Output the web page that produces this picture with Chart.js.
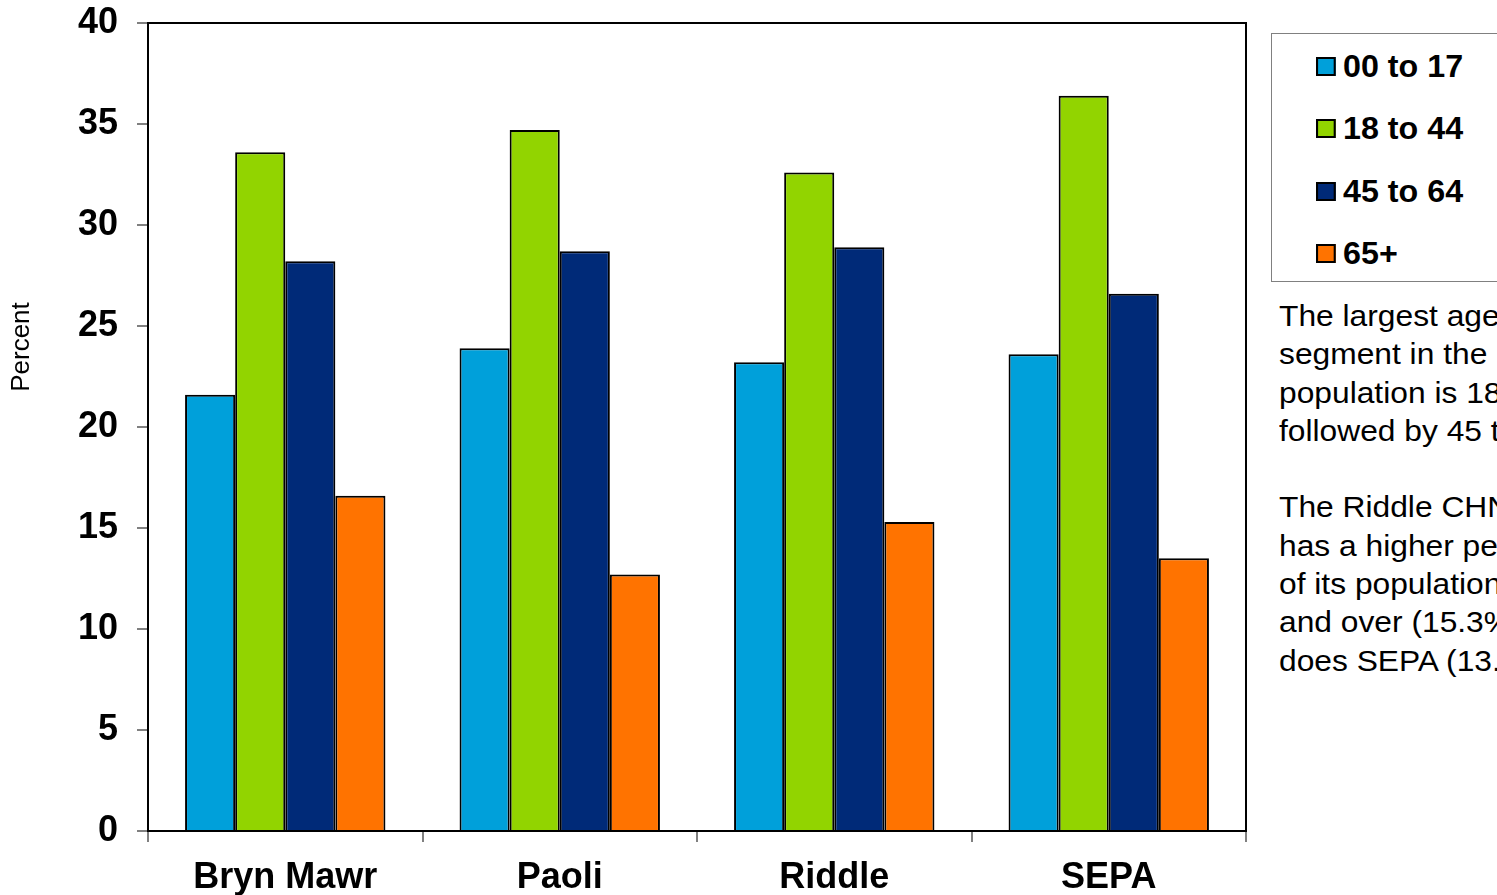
<!DOCTYPE html>
<html>
<head>
<meta charset="utf-8">
<script src="https://cdn.jsdelivr.net/npm/chart.js@4"></script>
<style>
  html, body { margin: 0; padding: 0; background: #fff; width: 1497px; height: 895px; overflow: hidden; }
  body { position: relative; font-family: "Liberation Sans", Arial, sans-serif; }
  #wrap { position: absolute; left: 0; top: 0; width: 1260px; height: 895px; }
  #legend { position: absolute; left: 1271px; top: 33px; width: 260px; height: 249px; border: 1px solid #808080; box-sizing: border-box; }
  .item { position: absolute; left: 44px; height: 40px; line-height: 40px; font-weight: bold; font-size: 31px; color: #000; white-space: nowrap; transform: scaleX(1.04); transform-origin: 0 50%; }
  .item span { display: inline-block; width: 15px; height: 15px; border: 2px solid #000; margin-right: 7px; vertical-align: 1px; }
  #note { position: absolute; left: 1279px; top: 297px; font-size: 29px; line-height: 38.3px; color: #000; white-space: nowrap; transform: scaleX(1.095); transform-origin: 0 0; }
</style>
</head>
<body>
<div id="wrap"><canvas id="chart"></canvas></div>
<div id="legend"></div>
<div id="note">
The largest age<br>segment in the<br>population is 18 to 44,<br>followed by 45 to 64.<br><br>
The Riddle CHNA<br>has a higher percentage<br>of its population 65<br>and over (15.3%) than<br>does SEPA (13.5%).
</div>
<script>
const areas = ['Bryn Mawr', 'Paoli', 'Riddle', 'SEPA'];
const groups = ['00 to 17', '18 to 44', '45 to 64', '65+'];
const age00to17 = [21.6, 23.9, 23.2, 23.6];
const age18to44 = [33.6, 34.7, 32.6, 36.4];
const age45to64 = [28.2, 28.7, 28.9, 26.6];
const age65plus = [16.6, 12.7, 15.3, 13.5];
const colors = ['#00A0DA', '#92D400', '#002A78', '#FF7300'];
const yTitle = 'Percent';

const series = [age00to17, age18to44, age45to64, age65plus];

// legend box on the right
const legend = document.getElementById('legend');
const rowTops = [13, 75, 138, 200];
groups.forEach(function (g, i) {
    const d = document.createElement('div');
    d.className = 'item';
    d.style.top = rowTops[i] + 'px';
    d.innerHTML = '<span style="background:' + colors[i] + '"></span>' + g;
    legend.appendChild(d);
});

// top/right frame of the plot area, and the axis title placed a bit above centre
const frame = {
    id: 'frame',
    afterDraw(chart) {
        const a = chart.chartArea;
        const ctx = chart.ctx;
        ctx.save();
        ctx.strokeStyle = '#000';
        ctx.lineWidth = 2;
        ctx.beginPath();
        ctx.moveTo(a.left, a.top);
        ctx.lineTo(a.right, a.top);
        ctx.lineTo(a.right, a.bottom);
        ctx.stroke();

        ctx.translate(22, a.top + (a.bottom - a.top) * 0.401);
        ctx.rotate(-Math.PI / 2);
        ctx.fillStyle = '#000';
        ctx.font = '26px "Liberation Sans"';
        ctx.textAlign = 'center';
        ctx.textBaseline = 'middle';
        ctx.fillText(yTitle, 0, 0);
        ctx.restore();
    }
};

const data = {
    labels: areas,
    datasets: series.map(function (vals, i) {
        return {
            label: groups[i],
            data: vals,
            backgroundColor: colors[i],
            borderColor: '#000',
            borderWidth: 2,
            categoryPercentage: 0.73,
            barPercentage: 1.0
        };
    })
};

const config = {
    type: 'bar',
    data: data,
    options: {
        responsive: true,
        maintainAspectRatio: false,
        animation: false,
        layout: { padding: { left: 0, right: 14, top: 23, bottom: 0 } },
        plugins: { legend: { display: false }, tooltip: { enabled: false } },
        scales: {
            x: {
                grid: { drawOnChartArea: false, tickLength: 11, color: '#808080', lineWidth: 2 },
                border: { color: '#000', width: 2 },
                ticks: { color: '#000', padding: 14, font: { family: 'Liberation Sans', size: 36, weight: 'bold' } },
                afterFit: function (s) { s.height = 64; s.paddingLeft = 0; s.paddingRight = 0; }
            },
            y: {
                min: 0,
                max: 40,
                grid: { drawOnChartArea: false, tickLength: 11, color: '#808080', lineWidth: 2 },
                border: { color: '#000', width: 2 },
                ticks: { stepSize: 5, color: '#000', padding: 19, font: { family: 'Liberation Sans', size: 36, weight: 'bold' } },
                afterFit: function (s) { s.width = 148; s.paddingTop = 0; s.paddingBottom = 0; }
            }
        }
    },
    plugins: [frame]
};

const ctx = document.getElementById('chart').getContext('2d');
new Chart(ctx, config);
</script>
</body>
</html>
